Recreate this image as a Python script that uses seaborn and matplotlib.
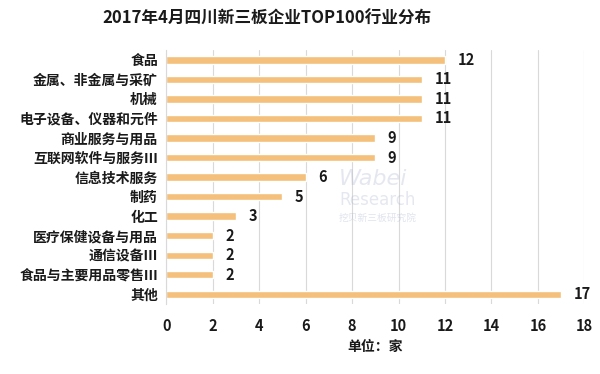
import matplotlib
matplotlib.use("Agg")
import matplotlib.pyplot as plt
import seaborn as sns
import pandas as pd

categories = ["食品", "金属、非金属与采矿", "机械", "电子设备、仪器和元件", "商业服务与用品",
              "互联网软件与服务Ⅲ", "信息技术服务", "制药", "化工", "医疗保健设备与用品",
              "通信设备Ⅲ", "食品与主要用品零售Ⅲ", "其他"]
values = [12, 11, 11, 11, 9, 9, 6, 5, 3, 2, 2, 2, 17]
xticks = [0, 2, 4, 6, 8, 10, 12, 14, 16, 18]

sns.set_theme(style="white")
plt.rcParams['font.family'] = ['Noto Sans CJK SC', 'DejaVu Sans']

df = pd.DataFrame({"cat": categories, "val": values})

fig = plt.figure(figsize=(6, 3.74), dpi=100)
ax = fig.add_axes([0.277, 0.187, 0.697, 0.679])
sns.barplot(data=df, x="val", y="cat", color="#F4C07C", saturation=1, width=0.38, ax=ax)

ax.set_xlim(0, 18)
ax.set_xticks(xticks)
ax.set_xticklabels([str(t) for t in xticks], fontsize=10.5, fontweight="bold", color="#1a1a1a")
ax.set_yticklabels(categories, fontsize=10, fontweight="bold", color="#1a1a1a")
ax.tick_params(axis="both", length=0, pad=6)
ax.tick_params(axis="x", pad=10)
ax.grid(axis="x", color="#d9d9d9", linewidth=0.8)
ax.set_axisbelow(True)
for s in ["top", "right", "bottom"]:
    ax.spines[s].set_visible(False)
ax.spines["left"].set_color("#d9d9d9")
ax.spines["left"].set_linewidth(0.8)
ax.set_ylabel("")
ax.set_xlabel("单位：家", fontsize=10, fontweight="bold", color="#1a1a1a", labelpad=4)

for i, v in enumerate(values):
    ax.annotate(str(v), xy=(v, i), xytext=(9, 0), textcoords="offset points",
                va="center", ha="left", fontsize=10.5, fontweight="bold", color="#1a1a1a",
                zorder=5)

# watermark (faint, behind data)
wm = "#aab2d0"
fig.text(0.565, 0.505, "Wabei", fontsize=16, color=wm, alpha=0.3, style="italic",
         family=["DejaVu Sans"], zorder=0)
fig.text(0.565, 0.452, "Research", fontsize=12, color=wm, alpha=0.3,
         family=["DejaVu Sans"], zorder=0)
fig.text(0.565, 0.41, "挖贝新三板研究院", fontsize=7, color=wm, alpha=0.35, zorder=0)

fig.suptitle("2017年4月四川新三板企业TOP100行业分布", fontsize=12, fontweight="bold",
             color="#1a1a1a", x=0.445, y=0.975)

fig.savefig("out.png", dpi=100, facecolor="white")
